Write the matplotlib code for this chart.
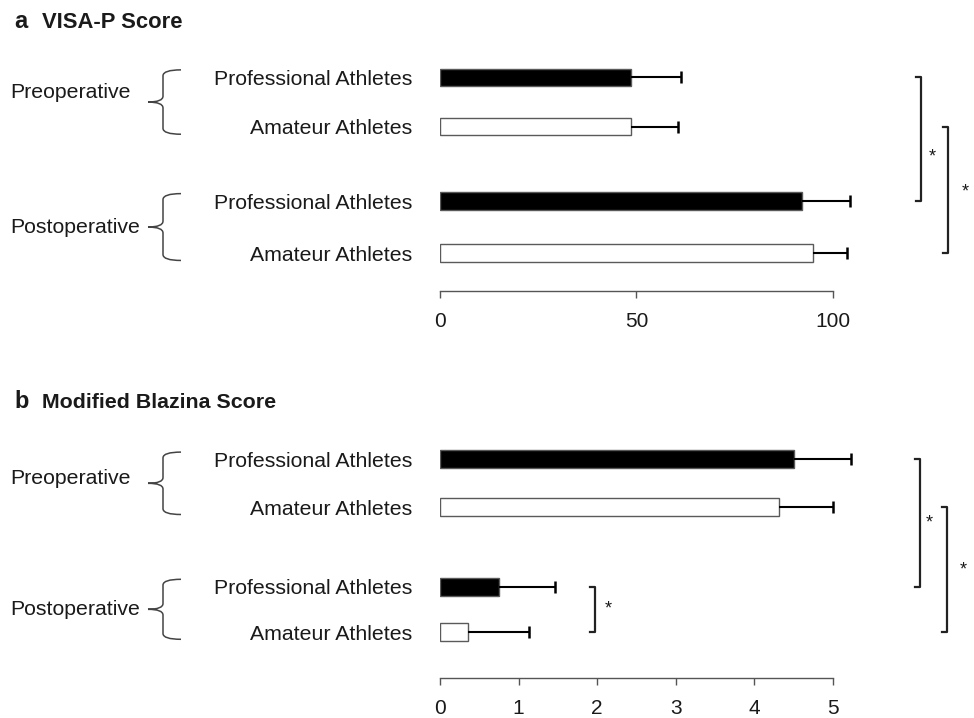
import matplotlib
matplotlib.use("Agg")
import matplotlib.pyplot as plt
from matplotlib.path import Path
from matplotlib.patches import PathPatch
import matplotlib.transforms as mtransforms

plt.rcParams['font.family'] = ['Liberation Sans', 'DejaVu Sans']

# ---- data ----
categories = ["Professional Athletes", "Amateur Athletes",
              "Professional Athletes", "Amateur Athletes"]
groups = ["Preoperative", "Postoperative"]
visa_mean = [48.7, 48.7, 92.1, 95.1]
visa_sd = [12.7, 12.0, 12.2, 8.6]
blazina_mean = [4.51, 4.31, 0.75, 0.36]
blazina_sd = [0.72, 0.69, 0.72, 0.77]
visa_ticks = [0, 50, 100]
blazina_ticks = [0, 1, 2, 3, 4, 5]
fills = ["black", "white", "black", "white"]

W, H = 974, 718
fig = plt.figure(figsize=(W / 100, H / 100), dpi=100)

EDGE = "#5a5a5a"
TXT = "#1a1a1a"


def fx(px):
    return px / W


def fy(px):
    return 1 - px / H


def draw_panel(ax, means, sds, pos, bh, xmax, ticks, letter, title, title_y,
               title_size, brackets, small_bracket=None, pre_off=-0.15,
               post_off=0.0):
    ax.set_xlim(0, xmax)
    for sp in ["top", "right", "left"]:
        ax.spines[sp].set_visible(False)
    ax.spines["bottom"].set_color("#555555")
    ax.spines["bottom"].set_linewidth(1.0)
    ax.set_xticks(ticks)
    ax.set_xticklabels([str(t) for t in ticks], fontsize=15, color=TXT)
    ax.tick_params(axis="x", length=5, width=1, color="#555555", pad=10)
    ax.set_yticks(pos)
    ax.set_yticklabels(categories, fontsize=15.3, color=TXT)
    ax.tick_params(axis="y", length=0, pad=20)
    ax.barh(pos, means, height=bh, color=fills, edgecolor=EDGE, linewidth=1.0,
            zorder=2)
    ends = [m + s for m, s in zip(means, sds)]
    ax.hlines(pos, means, ends, color="black", linewidth=1.5, zorder=3,
              clip_on=False)
    ax.plot(ends, pos, linestyle="none", marker="|", markersize=9,
            markeredgewidth=1.8, color="black", clip_on=False, zorder=3)

    tr = mtransforms.blended_transform_factory(ax.transAxes, ax.transData)
    # significance brackets
    allb = list(brackets) + ([small_bracket] if small_bracket else [])
    for (xb, y0, y1, xs, ys) in allb:
        tick = 0.012
        ax.plot([xb - tick, xb, xb, xb - tick], [y0, y0, y1, y1],
                transform=tr, color="#222222", linewidth=1.6, clip_on=False)
        ax.text(xs, ys, "*", transform=tr, fontsize=13, ha="center",
                va="center", color=TXT)

    # curly braces and group labels
    xv = (163 - 440) / 392.7
    xt = (181 - 440) / 392.7
    xn = (148 - 440) / 392.7
    xl = (10 - 440) / 392.7
    r = 0.12
    ext = 0.15
    for gi, (a, b) in enumerate([(pos[0], pos[1]), (pos[2], pos[3])]):
        top, bot = a - ext, b + ext
        mid = (a + b) / 2
        verts = [(xt, top), (xv, top), (xv, top + r),
                 (xv, mid - r), (xv, mid), (xn, mid),
                 (xv, mid), (xv, mid + r),
                 (xv, bot - r), (xv, bot), (xt, bot)]
        codes = [Path.MOVETO, Path.CURVE3, Path.CURVE3,
                 Path.LINETO, Path.CURVE3, Path.CURVE3,
                 Path.CURVE3, Path.CURVE3,
                 Path.LINETO, Path.CURVE3, Path.CURVE3]
        patch = PathPatch(Path(verts, codes), transform=tr, fill=False,
                          edgecolor="#444444", linewidth=1.1, clip_on=False)
        ax.add_patch(patch)
        off = pre_off if gi == 0 else post_off
        ax.text(xl, mid + off, groups[gi], transform=tr, fontsize=15.3,
                ha="left", va="center", color=TXT)

    fig.text(fx(14), fy(title_y), letter, fontsize=17, fontweight="bold",
             ha="left", va="baseline", color=TXT)
    fig.text(fx(42), fy(title_y), title, fontsize=title_size,
             fontweight="bold", ha="left", va="baseline", color=TXT)


# ---- panel a ----
pos_a = [0, 1, 2.5, 3.55]
ua = 49.5
top_a, bot_a, c0a = 50, 291, 77.3
ax_a = fig.add_axes([fx(440), fy(bot_a), fx(832.7 - 440), (bot_a - top_a) / H])
ax_a.set_ylim((bot_a - c0a) / ua, (top_a - c0a) / ua)
draw_panel(ax_a, visa_mean, visa_sd, pos_a, 0.35, 100, visa_ticks,
           "a", "VISA-P Score", 28, 15.8,
           brackets=[(1.225, pos_a[0], pos_a[2], 1.253, 1.61),
                     (1.294, pos_a[1], pos_a[3], 1.337, (pos_a[1] + pos_a[3]) / 2 + 0.05)],
           pre_off=-0.2, post_off=0.0)

# ---- panel b ----
pos_b = [0, 1, 2.65, 3.6]
ub = 48.0
top_b, bot_b, c0b = 430, 678.3, 459.3
ax_b = fig.add_axes([fx(440), fy(bot_b), fx(832.7 - 440), (bot_b - top_b) / H])
ax_b.set_ylim((bot_b - c0b) / ub, (top_b - c0b) / ub)
draw_panel(ax_b, blazina_mean, blazina_sd, pos_b, 0.375, 5, blazina_ticks,
           "b", "Modified Blazina Score", 408, 15.4,
           brackets=[(1.222, pos_b[0], pos_b[2], 1.247, (pos_b[0] + pos_b[2]) / 2),
                     (1.29, pos_b[1], pos_b[3], 1.333, (pos_b[1] + pos_b[3]) / 2)],
           small_bracket=(0.395, pos_b[2], pos_b[3], 0.428, (pos_b[2] + pos_b[3]) / 2),
           pre_off=-0.1, post_off=0.0)

fig.savefig("out.png", dpi=100)
